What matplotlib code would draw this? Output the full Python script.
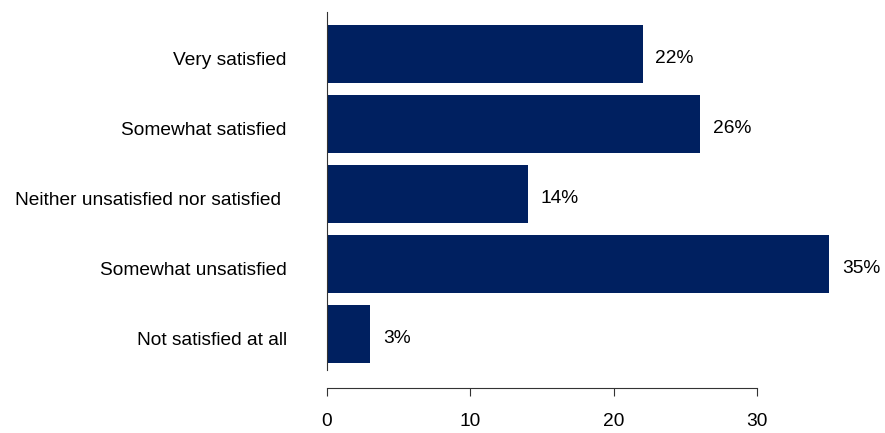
import matplotlib
matplotlib.use("Agg")
import matplotlib.pyplot as plt

categories = ["Very satisfied", "Somewhat satisfied", "Neither unsatisfied nor satisfied ",
              "Somewhat unsatisfied", "Not satisfied at all"]
values = [22, 26, 14, 35, 3]
xticks = [0, 10, 20, 30]

plt.rcParams["font.family"] = ["Liberation Sans", "DejaVu Sans"]
FS = 13.8

fig = plt.figure(figsize=(8.85, 4.33), dpi=100)
ax = fig.add_axes([327 / 885, 1 - 370 / 433, 1 - 327 / 885, (370 - 12) / 433])

ypos = list(range(len(categories)))
ax.barh(ypos, values, height=0.83, color="#002060")
for y, v in zip(ypos, values):
    ax.text(v + 0.9, y + 0.06, f"{v}%", va="center", ha="left", fontsize=FS, color="black")

ax.set_ylim(4.51, -0.6)
ax.set_xlim(0, 38.9)
ax.set_yticks([y + 0.06 for y in ypos])
ax.set_yticklabels(categories, fontsize=FS)
ax.tick_params(axis="y", length=0, pad=29)
ax.set_xticks(xticks)
ax.tick_params(axis="x", labelsize=FS, length=6, direction="out", pad=12, color="#333333")

for s in ["top", "right"]:
    ax.spines[s].set_visible(False)
ax.spines["left"].set_color("#333333")
ax.spines["bottom"].set_color("#333333")
ax.spines["bottom"].set_position(("outward", 13))
ax.spines["bottom"].set_bounds(0, 30)

fig.savefig("out.png", dpi=100)
